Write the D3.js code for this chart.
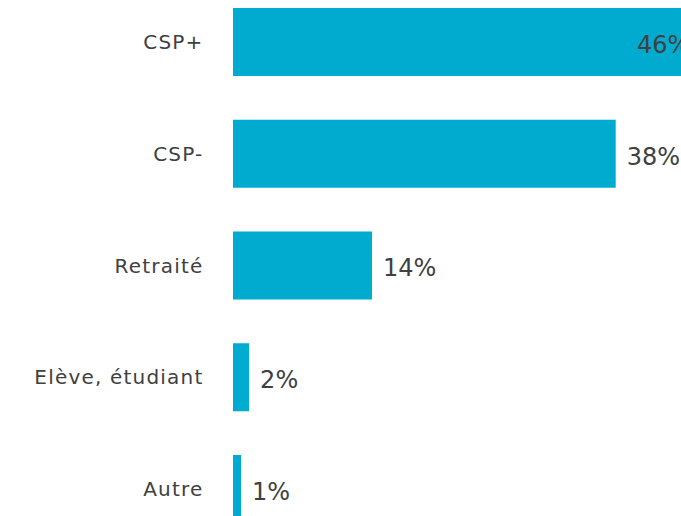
<!DOCTYPE html>
<html>
<head>
<meta charset="utf-8">
<script src="https://cdn.jsdelivr.net/npm/d3@7"></script>
<style>
  body { margin: 0; background: #fff; }
  svg { display: block; }
</style>
</head>
<body>
<svg class="chart" width="681" height="516"></svg>
<script>
const categories = ["CSP+", "CSP-", "Retraité", "Elève, étudiant", "Autre"]
const values = [46.1, 38, 13.8, 1.6, 0.8]
const labels = ["46%", "38%", "14%", "2%", "1%"]

const svg = d3.select('.chart')

const x = d3.scaleLinear([0, 38], [233, 615.7])
const y = d3.scaleBand(categories, [-13.9, 544.9])
    .paddingInner(0.3915)
    .paddingOuter(0.1957)

svg.selectAll('rect')
    .data(categories)
    .join('rect')
    .attr('x', x(0))
    .attr('y', d => y(d))
    .attr('width', (d, i) => x(values[i]) - x(0))
    .attr('height', y.bandwidth())
    .attr('fill', '#00abd0')

// category labels on the left
svg.selectAll('.cat')
    .data(categories)
    .join('text')
    .attr('class', 'cat')
    .attr('x', 203.5)
    .attr('y', d => y(d) + y.bandwidth() / 2)
    .attr('dy', '0.36em')
    .attr('text-anchor', 'end')
    .attr('font-family', 'DejaVu Sans')
    .attr('font-size', '20px')
    .attr('letter-spacing', '1.2px')
    .attr('fill', '#404040')
    .text(d => d)

// value labels, the long bar's one sits inside it like the original
svg.selectAll('.val')
    .data(categories)
    .join('text')
    .attr('class', 'val')
    .attr('x', (d, i) => Math.min(x(values[i]) + 11, 637))
    .attr('y', d => y(d) + y.bandwidth() / 2)
    .attr('dy', '0.45em')
    .attr('font-family', 'DejaVu Sans')
    .attr('font-size', '24px')
    .attr('fill', '#404040')
    .text((d, i) => labels[i])
</script>
</body>
</html>
